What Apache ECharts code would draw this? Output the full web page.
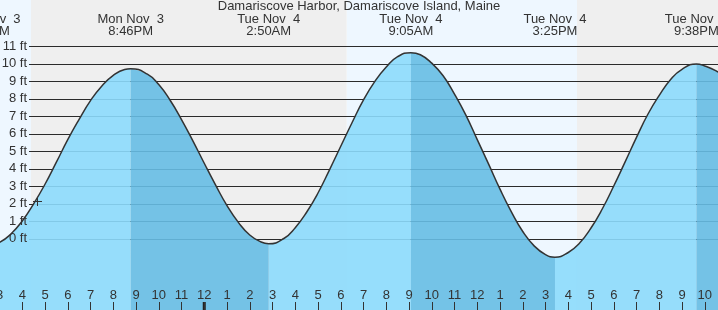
<!DOCTYPE html>
<html>
<head>
<meta charset="utf-8">
<script src="https://cdn.jsdelivr.net/npm/echarts@6/dist/echarts.min.js"></script>
<style>
html,body{margin:0;padding:0;background:#fff;}
#chart{width:718px;height:310px;}
</style>
</head>
<body>
<div id="chart"></div>
<script>
// Time axis: hours since Mon Nov 3, 3:00 PM
function hrs(day, h24, m) { return (day - 3) * 24 + h24 + m / 60 - 15; }

const chartTitle = 'Damariscove Harbor, Damariscove Island, Maine';

// Tide extremes (high / low)
const extremeHours = [hrs(3,14,28), hrs(3,20,46), hrs(4,2,50), hrs(4,9,5), hrs(4,15,25), hrs(4,21,38)];
const extremeFeet  = [-0.4, 9.7, -0.3, 10.62, -1.07, 9.97];
const extremeKind  = ['L', 'H', 'L', 'H', 'L', 'H'];
const extremeDay   = ['Mon Nov  3', 'Mon Nov  3', 'Tue Nov  4', 'Tue Nov  4', 'Tue Nov  4', 'Tue Nov  4'];
const extremeClock = ['2:28PM', '8:46PM', '2:50AM', '9:05AM', '3:25PM', '9:38PM'];

// Half-hourly tide heights (hours since 3PM Nov 3, feet)
const tideHours = [0, 0.5, 1, 1.5, 2, 2.5, 3, 3.5, 4, 4.5, 5, 5.5,
                   6.5, 7, 7.5, 8, 8.5, 9, 9.5, 10, 10.5, 11, 11.5,
                   12.5, 13, 13.5, 14, 14.5, 15, 15.5, 16, 16.5, 17, 17.5,
                   18.5, 19, 19.5, 20, 20.5, 21, 21.5, 22, 22.5, 23, 23.5, 24,
                   25, 25.5, 26, 26.5, 27, 27.5, 28, 28.5, 29, 29.5, 30,
                   31, 31.5, 32];
const tideFeet  = [-0.22, 0.26, 1.0, 1.98, 3.1, 4.36, 5.65, 6.81, 7.88, 8.72, 9.32, 9.66,
                   9.39, 8.8, 7.9, 6.8, 5.58, 4.3, 3.05, 1.88, 0.92, 0.2, -0.2,
                   0.0, 0.62, 1.5, 2.6, 3.91, 5.27, 6.63, 7.92, 8.98, 9.8, 10.39,
                   10.5, 10.02, 9.3, 8.25, 7.05, 5.65, 4.25, 2.82, 1.52, 0.4, -0.42, -0.92,
                   -0.8, -0.26, 0.6, 1.7, 3.0, 4.38, 5.78, 7.1, 8.18, 9.09, 9.67,
                   9.86, 9.58, 9.15];

// Day / night shading (sunset, sunrise, sunset)
const bandStart = [-2, hrs(3,16,23), hrs(4,6,16), hrs(4,16,23)];
const bandEnd   = [hrs(3,16,23), hrs(4,6,16), hrs(4,16,23), 34];
const bandKind  = ['day', 'night', 'day', 'night'];

// Horizontal feet lines and labels
const gridFeet = [0, 1, 2, 3, 4, 5, 6, 7, 8, 9, 10, 11];

// Hour tick labels from 3PM Nov 3 to 11PM Nov 4
const hourLabels = ['3','4','5','6','7','8','9','10','11','12','1','2','3','4','5','6','7','8','9','10','11',
                    '12','1','2','3','4','5','6','7','8','9','10','11'];
const midnightHour = [hrs(4,0,0)];

// Current-time marker
const nowMarker = [1.66, 2.16];

const FONT = '13px "Liberation Sans", Arial, sans-serif';
const TXT = '#333';

// Merge readings and extremes into one sorted curve
const allPts = [];
tideHours.forEach((t, i) => allPts.push([t, tideFeet[i]]));
extremeHours.forEach((t, i) => allPts.push([t, extremeFeet[i]]));
allPts.sort((a, b) => a[0] - b[0]);

// Split into rising / falling segments
const rising = [], falling = [];
const bounds = [-Infinity].concat(extremeHours, [Infinity]);
for (let k = 0; k < bounds.length - 1; k++) {
  const a = bounds[k], b = bounds[k + 1];
  const seg = allPts.filter(p => p[0] >= a && p[0] <= b);
  if (seg.length < 2) continue;
  const isRising = k > 0 && extremeKind[k - 1] === 'L';
  const target = isRising ? rising : falling;
  if (target.length) target.push('-');
  seg.forEach(p => target.push(p));
}

const chart = echarts.init(document.getElementById('chart'), null, {renderer: 'canvas'});

const option = {
  animation: false,
  title: {
    text: chartTitle, left: 'center', top: 0, padding: 0,
    textStyle: {fontSize: 13, fontWeight: 'normal', color: TXT, fontFamily: '"Liberation Sans", Arial, sans-serif'}
  },
  grid: {left: -0.5, right: -9.5, top: 0, bottom: 0, containLabel: false, outerBoundsMode: 'none'},
  xAxis: {
    type: 'value', min: 0, max: 32, interval: 1,
    axisLine: {show: false, onZero: false},
    splitLine: {show: false},
    axisTick: {show: true, inside: true, length: 8, lineStyle: {color: TXT, width: 1}},
    axisLabel: {
      inside: true, margin: 8, color: TXT, fontSize: 13,
      fontFamily: '"Liberation Sans", Arial, sans-serif',
      formatter: v => hourLabels[Math.round(v)] || ''
    },
    z: 10
  },
  yAxis: {type: 'value', min: -4.086, max: 13.63, show: false},
  series: [
    {
      type: 'custom', name: 'bands', z: 0, silent: true,
      data: bandStart.map((s, i) => [s, bandEnd[i], i]),
      renderItem: (params, api) => {
        const cs = params.coordSys;
        const x0 = api.coord([api.value(0), 0])[0];
        const x1 = api.coord([api.value(1), 0])[0];
        const kind = bandKind[api.value(2)];
        return {type: 'rect', shape: {x: x0, y: cs.y, width: x1 - x0, height: cs.height},
                style: {fill: kind === 'day' ? '#eef7ff' : '#efefef'}};
      }
    },
    {
      type: 'custom', name: 'ftLines', z: 1, silent: true,
      data: gridFeet.map(v => [0, v]),
      renderItem: (params, api) => {
        const cs = params.coordSys;
        const y = Math.round(api.coord([0, api.value(1)])[1]) + 0.5;
        return {type: 'line', shape: {x1: 29, y1: y, x2: cs.x + cs.width, y2: y},
                style: {stroke: '#2b2b2b', lineWidth: 1}};
      }
    },
    {
      type: 'line', name: 'rising', z: 2, data: rising, smooth: 0.5, showSymbol: false,
      connectNulls: false, lineStyle: {width: 0}, silent: true,
      areaStyle: {color: 'rgba(140,218,252,0.9)', origin: 'start', opacity: 1}
    },
    {
      type: 'line', name: 'falling', z: 2, data: falling, smooth: 0.5, showSymbol: false,
      connectNulls: false, lineStyle: {width: 0}, silent: true,
      areaStyle: {color: 'rgba(102,188,228,0.9)', origin: 'start', opacity: 1}
    },
    {
      type: 'line', name: 'tide', z: 3, data: allPts, smooth: 0.5, showSymbol: false, silent: true,
      lineStyle: {color: '#333', width: 1.5}
    },
    {
      type: 'custom', name: 'ftLabels', z: 4, silent: true,
      data: gridFeet.map(v => [0, v]),
      renderItem: (params, api) => {
        const y = api.coord([0, api.value(1)])[1];
        return {type: 'text', style: {text: api.value(1) + ' ft', x: 27, y: y,
                align: 'right', verticalAlign: 'middle', font: FONT, fill: TXT}};
      }
    },
    {
      type: 'custom', name: 'extremeLabels', z: 4, silent: true,
      data: extremeHours.map((t, i) => [t, i]),
      renderItem: (params, api) => {
        const x = api.coord([api.value(0), 0])[0];
        const i = api.value(1);
        return {type: 'group', children: [
          {type: 'text', style: {text: extremeDay[i], x: x, y: 19.5, align: 'center', verticalAlign: 'middle', font: FONT, fill: TXT}},
          {type: 'text', style: {text: extremeClock[i], x: x, y: 31.5, align: 'center', verticalAlign: 'middle', font: FONT, fill: TXT}}
        ]};
      }
    },
    {
      type: 'custom', name: 'midnight', z: 5, silent: true,
      data: midnightHour.map(t => [t, -4]),
      renderItem: (params, api) => {
        const cs = params.coordSys;
        const x = api.coord([api.value(0), 0])[0];
        return {type: 'rect', shape: {x: x - 1.5, y: cs.y + cs.height - 8, width: 3, height: 8},
                style: {fill: '#222'}};
      }
    },
    {
      type: 'custom', name: 'now', z: 5, silent: true,
      data: [nowMarker],
      renderItem: (params, api) => {
        const p = api.coord([api.value(0), api.value(1)]);
        const x = Math.round(p[0]) + 0.5, y = Math.round(p[1]) + 0.5;
        return {type: 'group', children: [
          {type: 'line', shape: {x1: x - 4.5, y1: y, x2: x + 4.5, y2: y}, style: {stroke: '#333', lineWidth: 1}},
          {type: 'line', shape: {x1: x, y1: y - 4.5, x2: x, y2: y + 4.5}, style: {stroke: '#333', lineWidth: 1}}
        ]};
      }
    }
  ]
};
chart.setOption(option);
</script>
</body>
</html>
